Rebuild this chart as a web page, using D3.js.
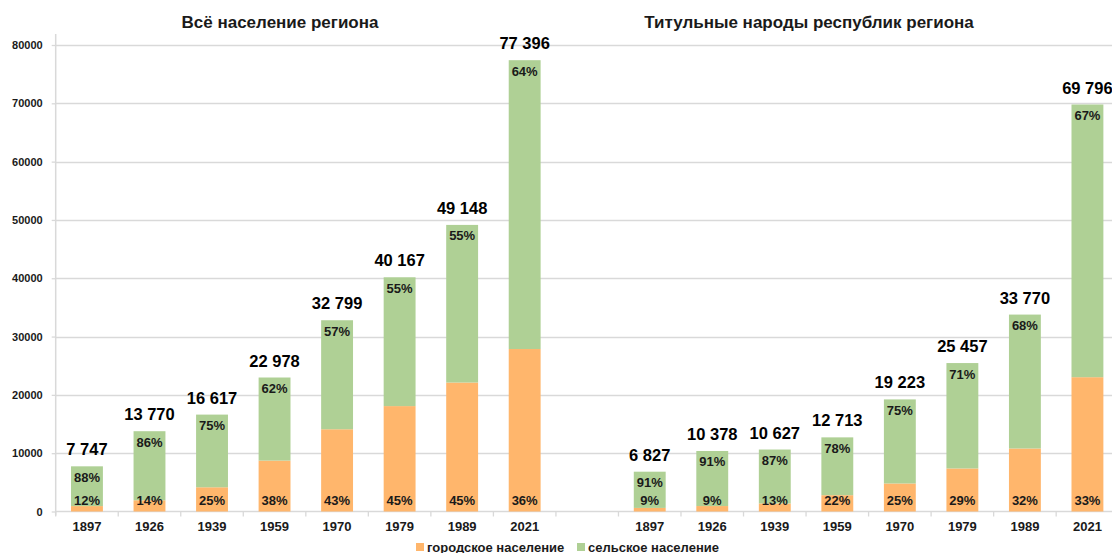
<!DOCTYPE html>
<html>
<head>
<meta charset="utf-8">
<script src="https://cdn.jsdelivr.net/npm/d3@7"></script>
<style>
  html, body { margin: 0; padding: 0; background: #fff; }
  svg { display: block; font-family: "Liberation Sans", Arial, sans-serif; }
</style>
</head>
<body>
<svg id="chart" width="1112" height="553"></svg>
<script>
// ---- data ----
const years = ["1897", "1926", "1939", "1959", "1970", "1979", "1989", "2021"];
const totalAll = [7747, 13770, 16617, 22978, 32799, 40167, 49148, 77396];
const urbanPctAll = [12, 14, 25, 38, 43, 45, 45, 36];
const ruralPctAll = [88, 86, 75, 62, 57, 55, 55, 64];
const totalTitular = [6827, 10378, 10627, 12713, 19223, 25457, 33770, 69796];
const urbanPctTitular = [9, 9, 13, 22, 25, 29, 32, 33];
const ruralPctTitular = [91, 91, 87, 78, 75, 71, 68, 67];
const groupTitles = ["Всё население региона", "Титульные народы республик региона"];
const seriesNames = ["городское население", "сельское население"];
const yTicks = [0, 10000, 20000, 30000, 40000, 50000, 60000, 70000, 80000];

// ---- build rows ----
const rows = [];
years.forEach((y, i) => rows.push({key: "A" + y, year: y, total: totalAll[i], up: urbanPctAll[i], rp: ruralPctAll[i]}));
const gapKey = "gap";
years.forEach((y, i) => rows.push({key: "T" + y, year: y, total: totalTitular[i], up: urbanPctTitular[i], rp: ruralPctTitular[i]}));
rows.forEach(r => { r.urban = r.total * r.up / 100; });
const domain = rows.slice(0, 8).map(r => r.key).concat([gapKey], rows.slice(8).map(r => r.key));

const svg = d3.select("#chart");
const x0 = 55.7, x1 = 1118.7;
const x = d3.scaleBand().domain(domain).range([x0, x1]).paddingInner(0.49).paddingOuter(0.245);
const y = d3.scaleLinear().domain([0, 80000]).range([511.5, 45]);
const step = x.step();

const colUrban = "#ffb66c", colRural = "#afd095";
const gridCol = "#d9d9d9";
const textCol = "#1a1a1a";

// gridlines
svg.append("g").selectAll("line").data(yTicks.filter(t => t > 0)).join("line")
  .attr("x1", x0).attr("x2", 1112)
  .attr("y1", d => Math.round(y(d)) + 0.5).attr("y2", d => Math.round(y(d)) + 0.5)
  .attr("stroke", gridCol).attr("stroke-width", 1.3);

// y axis
const yAxis = d3.axisLeft(y).tickValues(yTicks).tickSize(4).tickPadding(9).tickFormat(d3.format("d"));
const gy = svg.append("g").attr("transform", `translate(${x0},0)`).call(yAxis);
gy.select(".domain").remove();
gy.selectAll(".tick line").attr("stroke", gridCol).attr("stroke-width", 1.3);
gy.selectAll(".tick text").attr("font-size", 11).attr("font-weight", "bold").attr("fill", textCol)
  .attr("font-family", "Liberation Sans, Arial, sans-serif");
svg.append("line").attr("x1", x0).attr("x2", x0).attr("y1", 34).attr("y2", y(0) + 4)
  .attr("stroke", gridCol).attr("stroke-width", 1.5);

// x axis
svg.append("line").attr("x1", x0).attr("x2", 1112).attr("y1", y(0)).attr("y2", y(0))
  .attr("stroke", gridCol).attr("stroke-width", 1.5);
svg.append("g").selectAll("line").data(d3.range(domain.length + 1)).join("line")
  .attr("x1", i => x0 + i * step).attr("x2", i => x0 + i * step)
  .attr("y1", y(0)).attr("y2", y(0) + 5)
  .attr("stroke", gridCol).attr("stroke-width", 1.3);
svg.append("g").selectAll("text").data(rows).join("text")
  .attr("x", d => x(d.key) + x.bandwidth() / 2).attr("y", 531)
  .attr("text-anchor", "middle").attr("font-size", 13).attr("font-weight", "bold").attr("fill", textCol)
  .text(d => d.year);

// bars
const bars = svg.append("g");
bars.selectAll("rect.urban").data(rows).join("rect").attr("class", "urban")
  .attr("x", d => x(d.key)).attr("width", x.bandwidth())
  .attr("y", d => y(d.urban)).attr("height", d => y(0) - y(d.urban))
  .attr("fill", colUrban);
bars.selectAll("rect.rural").data(rows).join("rect").attr("class", "rural")
  .attr("x", d => x(d.key)).attr("width", x.bandwidth())
  .attr("y", d => y(d.total)).attr("height", d => y(d.urban) - y(d.total))
  .attr("fill", colRural);

// percent labels
const fmtPct = d => d + "%";
svg.append("g").selectAll("text").data(rows).join("text")
  .attr("x", d => x(d.key) + x.bandwidth() / 2).attr("y", y(0) - 6.5)
  .attr("text-anchor", "middle").attr("font-size", 13).attr("font-weight", "bold").attr("fill", textCol)
  .text(d => fmtPct(d.up));
svg.append("g").selectAll("text").data(rows).join("text")
  .attr("x", d => x(d.key) + x.bandwidth() / 2).attr("y", d => y(d.total) + 15.5)
  .attr("text-anchor", "middle").attr("font-size", 13).attr("font-weight", "bold").attr("fill", textCol)
  .text(d => fmtPct(d.rp));

// totals
const loc = d3.formatLocale({decimal: ",", thousands: " ", grouping: [3], currency: ["", ""]});
const fmtTotal = loc.format(",d");
svg.append("g").selectAll("text").data(rows).join("text")
  .attr("x", d => x(d.key) + x.bandwidth() / 2).attr("y", d => y(d.total) - 11)
  .attr("text-anchor", "middle").attr("font-size", 16.5).attr("font-weight", "bold").attr("fill", "#000")
  .text(d => fmtTotal(d.total));

// titles
svg.append("text").attr("x", 280).attr("y", 28).attr("text-anchor", "middle")
  .attr("font-size", 17).attr("font-weight", "bold").attr("fill", textCol).text(groupTitles[0]);
svg.append("text").attr("x", 809).attr("y", 28).attr("text-anchor", "middle")
  .attr("font-size", 17).attr("font-weight", "bold").attr("fill", textCol).text(groupTitles[1]);

// legend
const leg = svg.append("g");
const legItems = [{name: seriesNames[0], col: colUrban, x: 416}, {name: seriesNames[1], col: colRural, x: 577}];
leg.selectAll("rect").data(legItems).join("rect")
  .attr("x", d => d.x).attr("y", 543).attr("width", 8).attr("height", 8).attr("fill", d => d.col);
leg.selectAll("text").data(legItems).join("text")
  .attr("x", d => d.x + 11).attr("y", 551.5)
  .attr("font-size", 13).attr("font-weight", "bold").attr("fill", textCol).text(d => d.name);
</script>
</body>
</html>
